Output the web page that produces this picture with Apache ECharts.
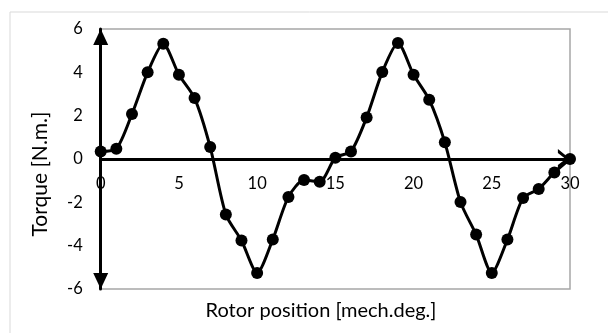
<!DOCTYPE html>
<html>
<head>
<meta charset="utf-8">
<script src="https://cdn.jsdelivr.net/npm/echarts@6/dist/echarts.min.js"></script>
<style>
html,body{margin:0;padding:0;background:#fff;}
#chart{width:608px;height:333px;}
</style>
</head>
<body>
<div id="chart"></div>
<script>
var positions = [0,1,2,3,4,5,6,7,8,9,10,11,12,13,14,15,16,17,18,19,20,21,22,23,24,25,26,27,28,29,30];
var torque = [0.35,0.47,2.08,4.0,5.32,3.89,2.81,0.55,-2.56,-3.76,-5.26,-3.71,-1.75,-0.97,-1.05,0.06,0.35,1.92,4.01,5.35,3.89,2.74,0.77,-1.99,-3.49,-5.26,-3.72,-1.8,-1.38,-0.62,0.0];
var xTicks = {min:0, max:30, interval:5};
var yTicks = {min:-6, max:6, interval:2};
var xTitle = 'Rotor position [mech.deg.]';
var yTitle = 'Torque [N.m.]';

var FONT = 'Lato';
var data = positions.map(function(p,i){return [p, torque[i]];});
var chart = echarts.init(document.getElementById('chart'), null, {renderer:'canvas'});
var gridTop = 29, gridBottom = 44, H = 333;
var plotH = H - gridTop - gridBottom;
// move x axis to value 0 (middle of y range)
var zeroShift = -plotH * (0 - yTicks.min) / (yTicks.max - yTicks.min);
chart.setOption({
  animation:false,
  backgroundColor:'#fff',
  grid:{left:100.7, right:38, top:gridTop, bottom:gridBottom, show:true, borderColor:'#a6a6a6', borderWidth:1.5, backgroundColor:'transparent'},
  graphic:[
    {type:'rect', shape:{x:10, y:12, width:620, height:340}, style:{fill:'none', stroke:'#d9d9d9', lineWidth:1}, z:-1},
    {type:'text', x:321, y:311, style:{text:xTitle, font:'20px Lato', fill:'#000', textAlign:'center', textVerticalAlign:'middle'}},
    {type:'text', x:40, y:174, rotation:Math.PI/2, style:{text:yTitle, font:'21px Lato', fill:'#000', textAlign:'center', textVerticalAlign:'middle'}}
  ],
  xAxis:{type:'value', min:xTicks.min, max:xTicks.max, interval:xTicks.interval, position:'bottom', offset:zeroShift,
    axisLine:{onZero:false, lineStyle:{color:'#000', width:3},
      symbol:['none','path://M0,11 L9,0 L18,11 L14.5,11 L9,4 L3.5,11 Z'], symbolSize:[20,14], symbolOffset:[0,-6]},
    axisTick:{show:false}, splitLine:{show:false},
    axisLabel:{color:'#000', fontFamily:FONT, fontSize:16.5, margin:16}
  },
  yAxis:{type:'value', min:yTicks.min, max:yTicks.max, interval:yTicks.interval,
    axisLine:{onZero:false, lineStyle:{color:'#000', width:3}, symbol:['triangle','triangle'], symbolSize:[15,16], symbolOffset:[8,-8]},
    axisTick:{show:false}, splitLine:{show:false},
    axisLabel:{color:'#000', fontFamily:FONT, fontSize:16.5, margin:18}
  },
  series:[{type:'line', data:data, smooth:0.25, symbol:'circle', symbolSize:12, showSymbol:true,
    lineStyle:{color:'#000', width:3}, itemStyle:{color:'#000'}, z:5}]
});
</script>
</body>
</html>
